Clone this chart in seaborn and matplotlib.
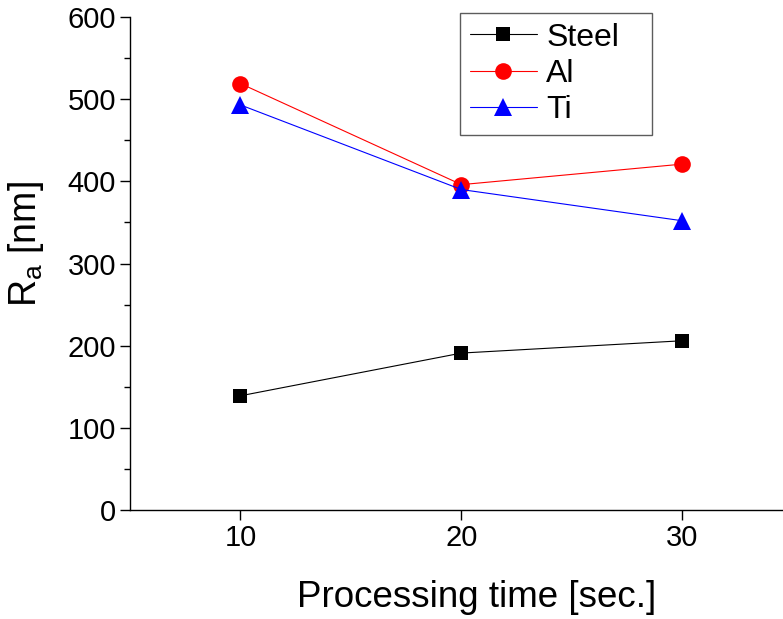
import matplotlib
matplotlib.use("Agg")
import matplotlib.pyplot as plt
import pandas as pd
import seaborn as sns
from matplotlib.ticker import MultipleLocator

# данные
times = [10, 20, 30]
steel = [139, 191, 206]
al = [519, 396, 421]
ti = [493, 390, 352]
materials = ["Steel", "Al", "Ti"]

df = pd.DataFrame({
    "time": times * 3,
    "ra": steel + al + ti,
    "material": [m for m in materials for _ in times],
})

sns.set_style("ticks")
plt.rcParams["font.family"] = ["Liberation Sans", "DejaVu Sans"]
plt.rcParams["mathtext.default"] = "regular"
for key in ["text.color", "axes.labelcolor", "xtick.color", "ytick.color"]:
    plt.rcParams[key] = "black"

fig = plt.figure(figsize=(7.83, 6.19), dpi=100)
ax = fig.add_axes([0.1660, 0.1761, 0.8467, 0.7964])

palette = {"Steel": "black", "Al": "red", "Ti": "blue"}
markers = {"Steel": "s", "Al": "o", "Ti": "^"}
sizes = {"Steel": 10, "Al": 12, "Ti": 13}

for name in materials:
    sub = df[df["material"] == name]
    sns.lineplot(
        data=sub, x="time", y="ra", ax=ax,
        color=palette[name], marker=markers[name],
        markersize=sizes[name], markeredgewidth=0,
        linewidth=0.8, label=name,
    )

ax.set_xlim(5, 35)
ax.set_ylim(0, 600)
ax.xaxis.set_major_locator(MultipleLocator(10))
ax.yaxis.set_major_locator(MultipleLocator(100))
ax.yaxis.set_minor_locator(MultipleLocator(50))

ax.tick_params(axis="both", which="major", direction="out", length=7,
               width=1, labelsize=21, colors="black", pad=3)
ax.tick_params(axis="y", which="minor", direction="out", length=4, width=1)

for side in ["top", "right"]:
    ax.spines[side].set_visible(False)
for side in ["left", "bottom"]:
    ax.spines[side].set_color("black")
    ax.spines[side].set_linewidth(1)

ax.set_xlabel("Processing time [sec.]", fontsize=26.5)
ax.xaxis.set_label_coords(0.523, -0.142, transform=ax.transAxes)
ax.xaxis.label.set_va("top")
ax.set_ylabel(r"R$_a$ [nm]", fontsize=27)
ax.yaxis.set_label_coords(-0.127, 0.54)

leg = ax.legend(
    loc="upper left", bbox_to_anchor=(0.498, 1.008, 0.2896, 0.0),
    mode="expand", borderaxespad=0,
    fontsize=23, frameon=True, fancybox=False, edgecolor="#333333",
    handlelength=2.1, handletextpad=0.3, labelspacing=0.2,
    borderpad=0.3,
)
leg.get_frame().set_linewidth(1)

fig.savefig("out.png", dpi=100)
